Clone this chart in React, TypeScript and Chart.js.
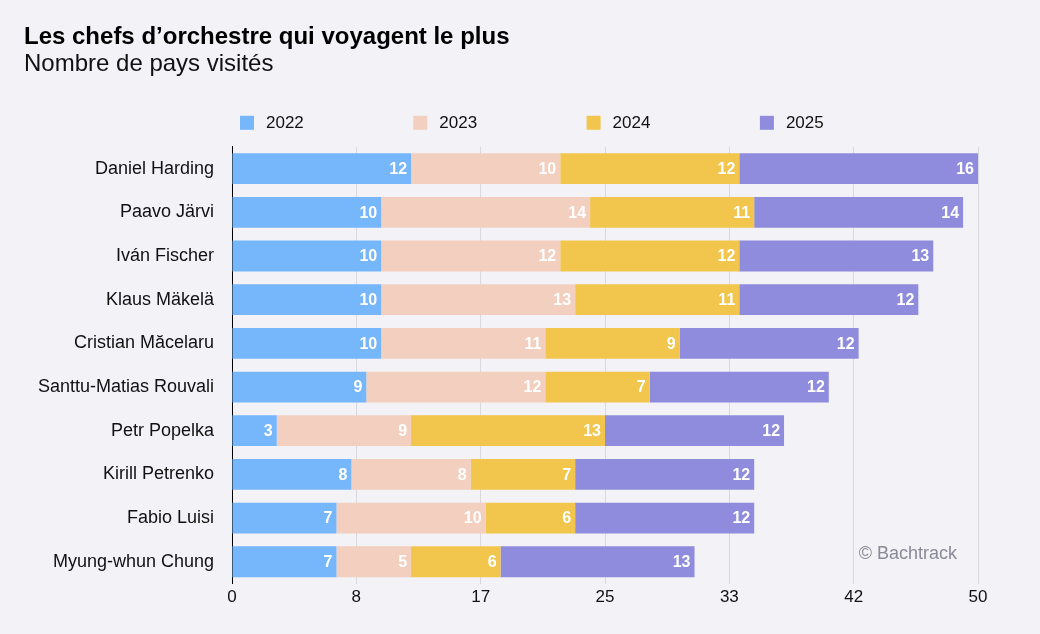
import { useEffect, useRef } from "react";
import { Chart, registerables } from "chart.js";

Chart.register(...registerables);

// Conductors, top to bottom
const conductors = [
  "Daniel Harding",
  "Paavo Järvi",
  "Iván Fischer",
  "Klaus Mäkelä",
  "Cristian Măcelaru",
  "Santtu-Matias Rouvali",
  "Petr Popelka",
  "Kirill Petrenko",
  "Fabio Luisi",
  "Myung-whun Chung",
];

const years = ["2022", "2023", "2024", "2025"];

// Countries visited per year
const countries2022 = [12, 10, 10, 10, 10, 9, 3, 8, 7, 7];
const countries2023 = [10, 14, 12, 13, 11, 12, 9, 8, 10, 5];
const countries2024 = [12, 11, 12, 11, 9, 7, 13, 7, 6, 6];
const countries2025 = [16, 14, 13, 12, 12, 12, 12, 12, 12, 13];

const yearColors = ["#76b6fb", "#f2cfbe", "#f2c54c", "#8f8cdd"];

// x axis runs 0..50 split into six equal steps, labels rounded
const axisMax = 50;
const axisSteps = 6;

const FONT = "'Liberation Sans', Arial, Helvetica, sans-serif";
const BG = "#f2f2f7";

const backgroundPlugin = {
  id: "pageBackground",
  beforeDraw(chart: any) {
    const { ctx, width, height } = chart;
    ctx.save();
    ctx.fillStyle = BG;
    ctx.fillRect(0, 0, width, height);
    ctx.restore();
  },
};

// White value labels at the right end of each segment
const segmentLabelsPlugin = {
  id: "segmentLabels",
  afterDatasetsDraw(chart: any) {
    const { ctx } = chart;
    ctx.save();
    ctx.font = `bold 16px ${FONT}`;
    ctx.fillStyle = "#ffffff";
    ctx.textAlign = "right";
    ctx.textBaseline = "middle";
    chart.data.datasets.forEach((ds: any, di: number) => {
      const meta = chart.getDatasetMeta(di);
      meta.data.forEach((bar: any, i: number) => {
        const v = ds.data[i];
        if (!v) return;
        ctx.fillText(String(v), bar.x - 4, bar.y + 1);
      });
    });
    ctx.restore();
  },
};

// Year legend spread across the row above the bars
const yearLegendPlugin = {
  id: "yearLegend",
  afterDraw(chart: any) {
    const { ctx, chartArea } = chart;
    const startX = chartArea.left + 8;
    const step = 173.3;
    const y = chartArea.top - 24;
    ctx.save();
    ctx.font = `17px ${FONT}`;
    ctx.textAlign = "left";
    ctx.textBaseline = "middle";
    chart.data.datasets.forEach((ds: any, i: number) => {
      const x = startX + i * step;
      ctx.fillStyle = ds.backgroundColor;
      ctx.fillRect(x, y - 7, 14, 14);
      ctx.fillStyle = "#111111";
      ctx.fillText(ds.label, x + 26, y + 1);
    });
    ctx.restore();
  },
};

const creditPlugin = {
  id: "credit",
  afterDraw(chart: any) {
    const { ctx, chartArea } = chart;
    ctx.save();
    ctx.font = `18px ${FONT}`;
    ctx.fillStyle = "#8a8a99";
    ctx.textAlign = "right";
    ctx.textBaseline = "middle";
    ctx.fillText("© Bachtrack", chartArea.right - 21, chartArea.bottom - 30);
    ctx.restore();
  },
};

export default function App() {
  const canvasRef = useRef<HTMLCanvasElement | null>(null);

  useEffect(() => {
    document.body.style.margin = "0";
    document.body.style.background = BG;
    const canvas = canvasRef.current;
    if (!canvas) return;

    const series = [countries2022, countries2023, countries2024, countries2025];

    const chart = new Chart(canvas, {
      type: "bar",
      data: {
        labels: conductors,
        datasets: years.map((year, i) => ({
          label: year,
          data: series[i],
          backgroundColor: yearColors[i],
          borderWidth: 0,
          barPercentage: 0.705,
          categoryPercentage: 1,
        })),
      },
      options: {
        indexAxis: "y",
        responsive: false,
        animation: false,
        layout: { padding: { left: 24, right: 62, top: 0, bottom: 22 } },
        plugins: {
          legend: { display: false },
          tooltip: { enabled: false },
          title: {
            display: true,
            text: "Les chefs d’orchestre qui voyagent le plus",
            align: "start",
            color: "#000000",
            font: { family: FONT, size: 24, weight: "bold", lineHeight: 1.1 },
            padding: { top: 24, bottom: 0 },
          },
          subtitle: {
            display: true,
            text: "Nombre de pays visités",
            align: "start",
            color: "#111111",
            font: { family: FONT, size: 24, lineHeight: 1.1 },
            padding: { top: 1, bottom: 69 },
          },
        },
        scales: {
          x: {
            stacked: true,
            min: 0,
            max: axisMax,
            afterBuildTicks(scale: any) {
              scale.ticks = Array.from({ length: axisSteps + 1 }, (_, i) => ({
                value: (axisMax / axisSteps) * i,
              }));
            },
            ticks: {
              color: "#111111",
              font: { family: FONT, size: 17 },
              padding: 4,
              maxRotation: 0,
              callback: (v: any) => String(Math.round(Number(v))),
            },
            grid: { color: "#d8d8de", lineWidth: 1, drawTicks: false },
            border: { display: false },
          },
          y: {
            stacked: true,
            afterFit(scale: any) {
              scale.width = 208;
            },
            ticks: {
              color: "#111111",
              font: { family: FONT, size: 18 },
              padding: 18,
            },
            grid: { display: false, drawTicks: false },
            border: { display: true, color: "#000000", width: 1 },
          },
        },
      },
      plugins: [backgroundPlugin, segmentLabelsPlugin, yearLegendPlugin, creditPlugin],
    } as any);

    return () => chart.destroy();
  }, []);

  return <canvas ref={canvasRef} width={1040} height={634} style={{ display: "block" }} />;
}
